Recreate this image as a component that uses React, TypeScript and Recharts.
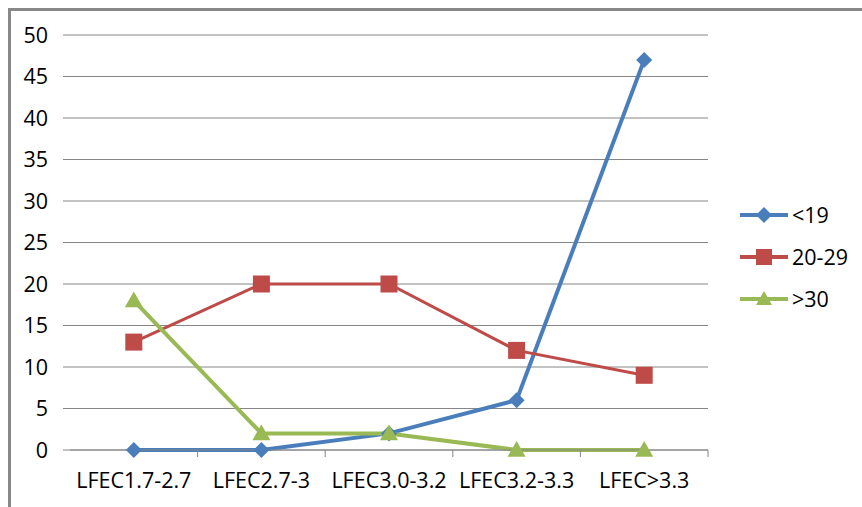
import React from 'react'
import { LineChart, Line, XAxis, YAxis, CartesianGrid } from 'recharts'

const categories = ['LFEC1.7-2.7', 'LFEC2.7-3', 'LFEC3.0-3.2', 'LFEC3.2-3.3', 'LFEC>3.3']
const under19 = [0, 0, 2, 6, 47]
const from20to29 = [13, 20, 20, 12, 9]
const over30 = [18, 2, 2, 0, 0]
const yTicks = [0, 5, 10, 15, 20, 25, 30, 35, 40, 45, 50]

const data = categories.map((c, i) => ({
  cat: c,
  a: under19[i],
  b: from20to29[i],
  c: over30[i],
}))

const BLUE = '#4a7ebb'
const RED = '#be4b48'
const GREEN = '#98b954'
const GRID = '#868686'
const FONT = '"Open Sans", sans-serif'
const FS = 21.5

const W = 862
const H = 507
const PLOT_LEFT = 70
const PLOT_RIGHT = 708
const HALF_BAND = (PLOT_RIGHT - PLOT_LEFT) / categories.length / 2

const Diamond = ({ cx, cy, r = 8, fill }: any) => (
  <path d={`M${cx},${cy - r} L${cx + r},${cy} L${cx},${cy + r} L${cx - r},${cy} Z`} fill={fill} />
)
const Square = ({ cx, cy, r = 8.5, fill }: any) => (
  <rect x={cx - r} y={cy - r} width={r * 2} height={r * 2} fill={fill} />
)
const Triangle = ({ cx, cy, r = 9, fill }: any) => (
  <path d={`M${cx},${cy - r} L${cx + r},${cy + r * 0.75} L${cx - r},${cy + r * 0.75} Z`} fill={fill} />
)

const XTick = ({ x, y, payload }: any) => (
  <g>
    <line x1={x + HALF_BAND} x2={x + HALF_BAND} y1={y - 23} y2={y - 16} stroke={GRID} />
    <text x={x} y={y} dy="0.71em" textAnchor="middle" fill="#000" fontSize={FS} fontFamily={FONT}>
      {payload.value}
    </text>
  </g>
)

const legendItems = [
  { label: '<19', color: BLUE, Marker: Diamond },
  { label: '20-29', color: RED, Marker: Square },
  { label: '>30', color: GREEN, Marker: Triangle },
]

export default function App() {
  return (
    <div style={{ position: 'absolute', left: 0, top: 0, width: W, height: H, overflow: 'hidden', background: '#fff' }}>
      <div
        style={{
          position: 'absolute', left: 8, top: 8, width: W, height: H,
          borderTop: '3px solid #888', borderLeft: '3px solid #888',
        }}
      />
      <LineChart width={W} height={H} data={data} margin={{ top: 35, right: W - PLOT_RIGHT, bottom: 17, left: 0 }}>
        <CartesianGrid vertical={false} stroke={GRID} />
        <XAxis
          dataKey="cat"
          padding={{ left: HALF_BAND, right: HALF_BAND }}
          stroke={GRID}
          tickLine={false}
          tickSize={0}
          tickMargin={0}
          height={40}
          interval={0}
          tick={(p: any) => <XTick {...p} y={p.y + 23} />}
        />
        <YAxis
          domain={[0, 50]}
          ticks={yTicks}
          width={PLOT_LEFT}
          axisLine={false}
          tickSize={7}
          tickMargin={15}
          tickLine={{ stroke: GRID }}
          tick={{ fill: '#000', fontSize: FS, fontFamily: FONT }}
          interval={0}
        />
        <Line
          dataKey="a"
          stroke={BLUE}
          strokeWidth={4}
          isAnimationActive={false}
          dot={(p: any) => <Diamond key={p.index} cx={p.cx} cy={p.cy} fill={BLUE} />}
        />
        <Line
          dataKey="b"
          stroke={RED}
          strokeWidth={3}
          isAnimationActive={false}
          dot={(p: any) => <Square key={p.index} cx={p.cx} cy={p.cy} fill={RED} />}
        />
        <Line
          dataKey="c"
          stroke={GREEN}
          strokeWidth={4}
          isAnimationActive={false}
          dot={(p: any) => <Triangle key={p.index} cx={p.cx} cy={p.cy} fill={GREEN} />}
        />
      </LineChart>
      <div style={{ position: 'absolute', left: 738, top: 194 }}>
        {legendItems.map(({ label, color, Marker }) => (
          <div key={label} style={{ display: 'flex', alignItems: 'center', height: 42 }}>
            <svg width={52} height={22}>
              <line x1={2} x2={50} y1={11} y2={11} stroke={color} strokeWidth={4} />
              <Marker cx={26} cy={11} r={8} fill={color} />
            </svg>
            <span style={{ fontFamily: FONT, fontSize: FS, color: '#000', marginLeft: 2, lineHeight: '26px' }}>{label}</span>
          </div>
        ))}
      </div>
    </div>
  )
}
